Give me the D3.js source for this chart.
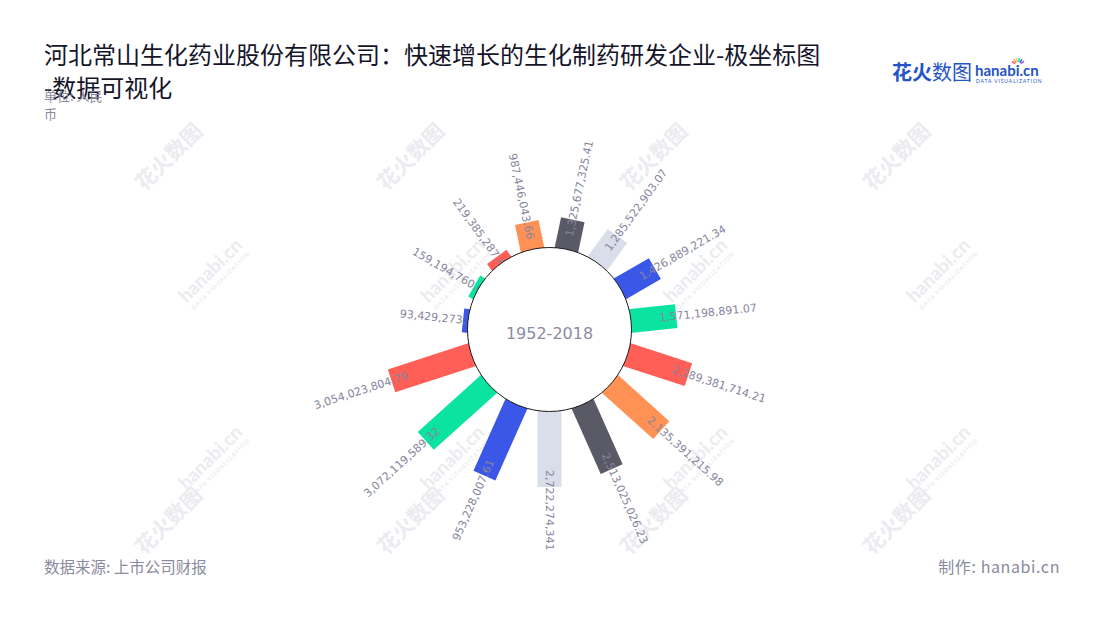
<!DOCTYPE html>
<html>
<head>
<meta charset="utf-8">
<script src="https://cdn.jsdelivr.net/npm/d3@7/dist/d3.min.js"></script>
<style>
  html, body { margin: 0; padding: 0; background: #ffffff; }
  svg { display: block; }
</style>
</head>
<body>
<svg id="chart" width="1100" height="620"></svg>
<script>
// ---------- data ----------
const categories = ["c01","c02","c03","c04","c05","c06","c07","c08","c09","c10","c11","c12","c13","c14","c15"];
// values printed on the bars (labels)
const labelValues = [1325677325.41, 1285522903.07, 1426889221.34, 1571198891.07, 2289381714.21,
                     2135391215.98, 2513025026.23, 2722274341, 953228007.61, 3072119589.32,
                     3054023804.79, 93429273.72, 159194760.62, 219385287.42, 987446043.66];
// bar lengths (same units)
const barValues = [1.094e9, 1.217e9, 1.438e9, 1.645e9, 2.322e9,
                   2.478e9, 2.569e9, 2.736e9, 2.826e9, 3.062e9,
                   3.047e9, 0.18e9, 0.18e9, 0.28e9, 0.99e9];
const barColors = ["#5a5a66", "#dadeea", "#3a57e8", "#0be3a1", "#ff5f57",
                   "#ff9155", "#5a5a66", "#dadeea", "#3a57e8", "#0be3a1",
                   "#ff5f57", "#3a57e8", "#0be3a1", "#ff5f57", "#ff9155"];
const radiusDomain = [0, 3.08e9];
const titleText = "河北常山生化药业股份有限公司：快速增长的生化制药研发企业-极坐标图";
const titleText2 = "-数据可视化";
const centerLabel = "1952-2018";

// ---------- layout ----------
const svg = d3.select("#chart");
const cx = 549.5, cy = 329.5, innerR = 82;

const angle = d3.scaleBand().domain(categories).range([0, 360]).padding(0);
const radius = d3.scaleLinear().domain(radiusDomain).range([innerR, innerR + 85]);
const fmt = d3.format(",.2~f");

// ---------- watermarks ----------
const wm = svg.append("g").attr("fill", "#ebebf0").attr("font-weight", "bold");
const wmCols = [170, 412, 655, 898];
const wmRowsA = [158, 522];
const wmRowsB = [275, 462];
wmCols.forEach(x => {
  wmRowsA.forEach(y => {
    wm.append("text").attr("transform", `translate(${x},${y}) rotate(-45)`)
      .attr("text-anchor", "middle").attr("dominant-baseline", "middle")
      .attr("font-family", "Noto Sans CJK SC").attr("font-size", 21).text("花火数图");
  });
  wmRowsB.forEach(y => {
    const g = wm.append("g").attr("transform", `translate(${x + 45},${y}) rotate(-45)`);
    g.append("text").attr("text-anchor", "middle").attr("y", 0)
      .attr("font-family", "Lato, sans-serif").attr("font-size", 19).text("hanabi.cn");
    g.append("text").attr("text-anchor", "middle").attr("y", 10)
      .attr("font-family", "Lato, sans-serif").attr("font-size", 6).attr("letter-spacing", 1).text("DATA VISUALIZATION");
  });
});

// ---------- bars ----------
const plot = svg.append("g").attr("transform", `translate(${cx},${cy})`);
const barW = 24;
const mid = c => angle(c) + angle.bandwidth() / 2;

plot.selectAll("rect.bar").data(categories).join("rect")
  .attr("class", "bar")
  .attr("x", -barW / 2)
  .attr("y", (c, i) => -radius(barValues[i]))
  .attr("width", barW)
  .attr("height", (c, i) => radius(barValues[i]) - (innerR - 14))
  .attr("fill", (c, i) => barColors[i])
  .attr("transform", c => `rotate(${mid(c)})`);

// ---------- labels ----------
plot.selectAll("text.lbl").data(categories).join("text")
  .attr("class", "lbl")
  .attr("font-family", "DejaVu Sans, sans-serif")
  .attr("font-size", 11)
  .attr("fill", "#85859c")
  .attr("dominant-baseline", "central")
  .each(function (c, i) {
    const a = mid(c);
    const phi = a - 90;
    const r = radius(barValues[i]) - 17;
    const rad = phi * Math.PI / 180;
    const x = r * Math.cos(rad), y = r * Math.sin(rad);
    const outward = a > 0 && a <= 180;
    d3.select(this)
      .attr("text-anchor", outward ? "start" : "end")
      .attr("transform", `translate(${x},${y}) rotate(${outward ? phi : phi - 180})`)
      .text(fmt(labelValues[i]));
  });

// ---------- center circle ----------
plot.append("circle").attr("r", innerR).attr("fill", "#ffffff")
  .attr("stroke", "#1a1a1a").attr("stroke-width", 1);
plot.append("text").attr("text-anchor", "middle").attr("dominant-baseline", "central")
  .attr("y", 4)
  .attr("font-family", "DejaVu Sans, sans-serif").attr("font-size", 16)
  .attr("fill", "#8c8ca2").text(centerLabel);

// ---------- titles ----------
svg.append("text").attr("x", 44).attr("y", 64)
  .attr("font-family", "Noto Sans CJK SC").attr("font-size", 24).attr("fill", "#15152a")
  .text(titleText);
svg.append("text").attr("x", 44).attr("y", 97)
  .attr("font-family", "Noto Sans CJK SC").attr("font-size", 24).attr("fill", "#15152a")
  .text(titleText2);
svg.append("text").attr("x", 44).attr("y", 101)
  .attr("font-family", "Noto Sans CJK SC").attr("font-size", 13).attr("fill", "#8a8aa0")
  .text("单位: 人民");
svg.append("text").attr("x", 44).attr("y", 119)
  .attr("font-family", "Noto Sans CJK SC").attr("font-size", 13).attr("fill", "#8a8aa0")
  .text("币");

// ---------- footer ----------
svg.append("text").attr("x", 44).attr("y", 573)
  .attr("font-family", "Noto Sans CJK SC").attr("font-size", 15.5).attr("fill", "#8a8aa0")
  .text("数据来源: 上市公司财报");
svg.append("text").attr("x", 1060).attr("y", 573).attr("text-anchor", "end")
  .attr("font-family", "Noto Sans CJK SC").attr("font-size", 16).attr("letter-spacing", 0.6)
  .attr("fill", "#8a8aa0")
  .text("制作: hanabi.cn");

// ---------- logo ----------
const logo = svg.append("g");
logo.append("text").attr("x", 892).attr("y", 80)
  .attr("font-family", "Noto Sans CJK SC").attr("font-size", 20).attr("fill", "#2553c9")
  .call(t => {
    t.append("tspan").attr("font-weight", "bold").text("花火");
    t.append("tspan").attr("font-weight", "normal").text("数图");
  });
logo.append("text").attr("x", 975).attr("y", 76)
  .attr("font-family", "Lato, sans-serif").attr("font-weight", "bold").attr("font-size", 15)
  .attr("fill", "#2553c9").text("hanabi.cn");
logo.append("text").attr("x", 976).attr("y", 83)
  .attr("font-family", "Lato, sans-serif").attr("font-size", 5).attr("letter-spacing", 0.9)
  .attr("fill", "#2553c9").text("DATA VISUALIZATION");
const sparkColors = ["#ff5f57", "#ff9155", "#f5c542", "#0be3a1", "#3a57e8", "#a05ee8"];
sparkColors.forEach((col, k) => {
  const a = (-150 + k * 24) * Math.PI / 180;
  logo.append("line")
    .attr("x1", 1018 + 3 * Math.cos(a)).attr("y1", 65 + 3 * Math.sin(a))
    .attr("x2", 1018 + 7 * Math.cos(a)).attr("y2", 65 + 7 * Math.sin(a))
    .attr("stroke", col).attr("stroke-width", 1.5);
});
</script>
</body>
</html>
